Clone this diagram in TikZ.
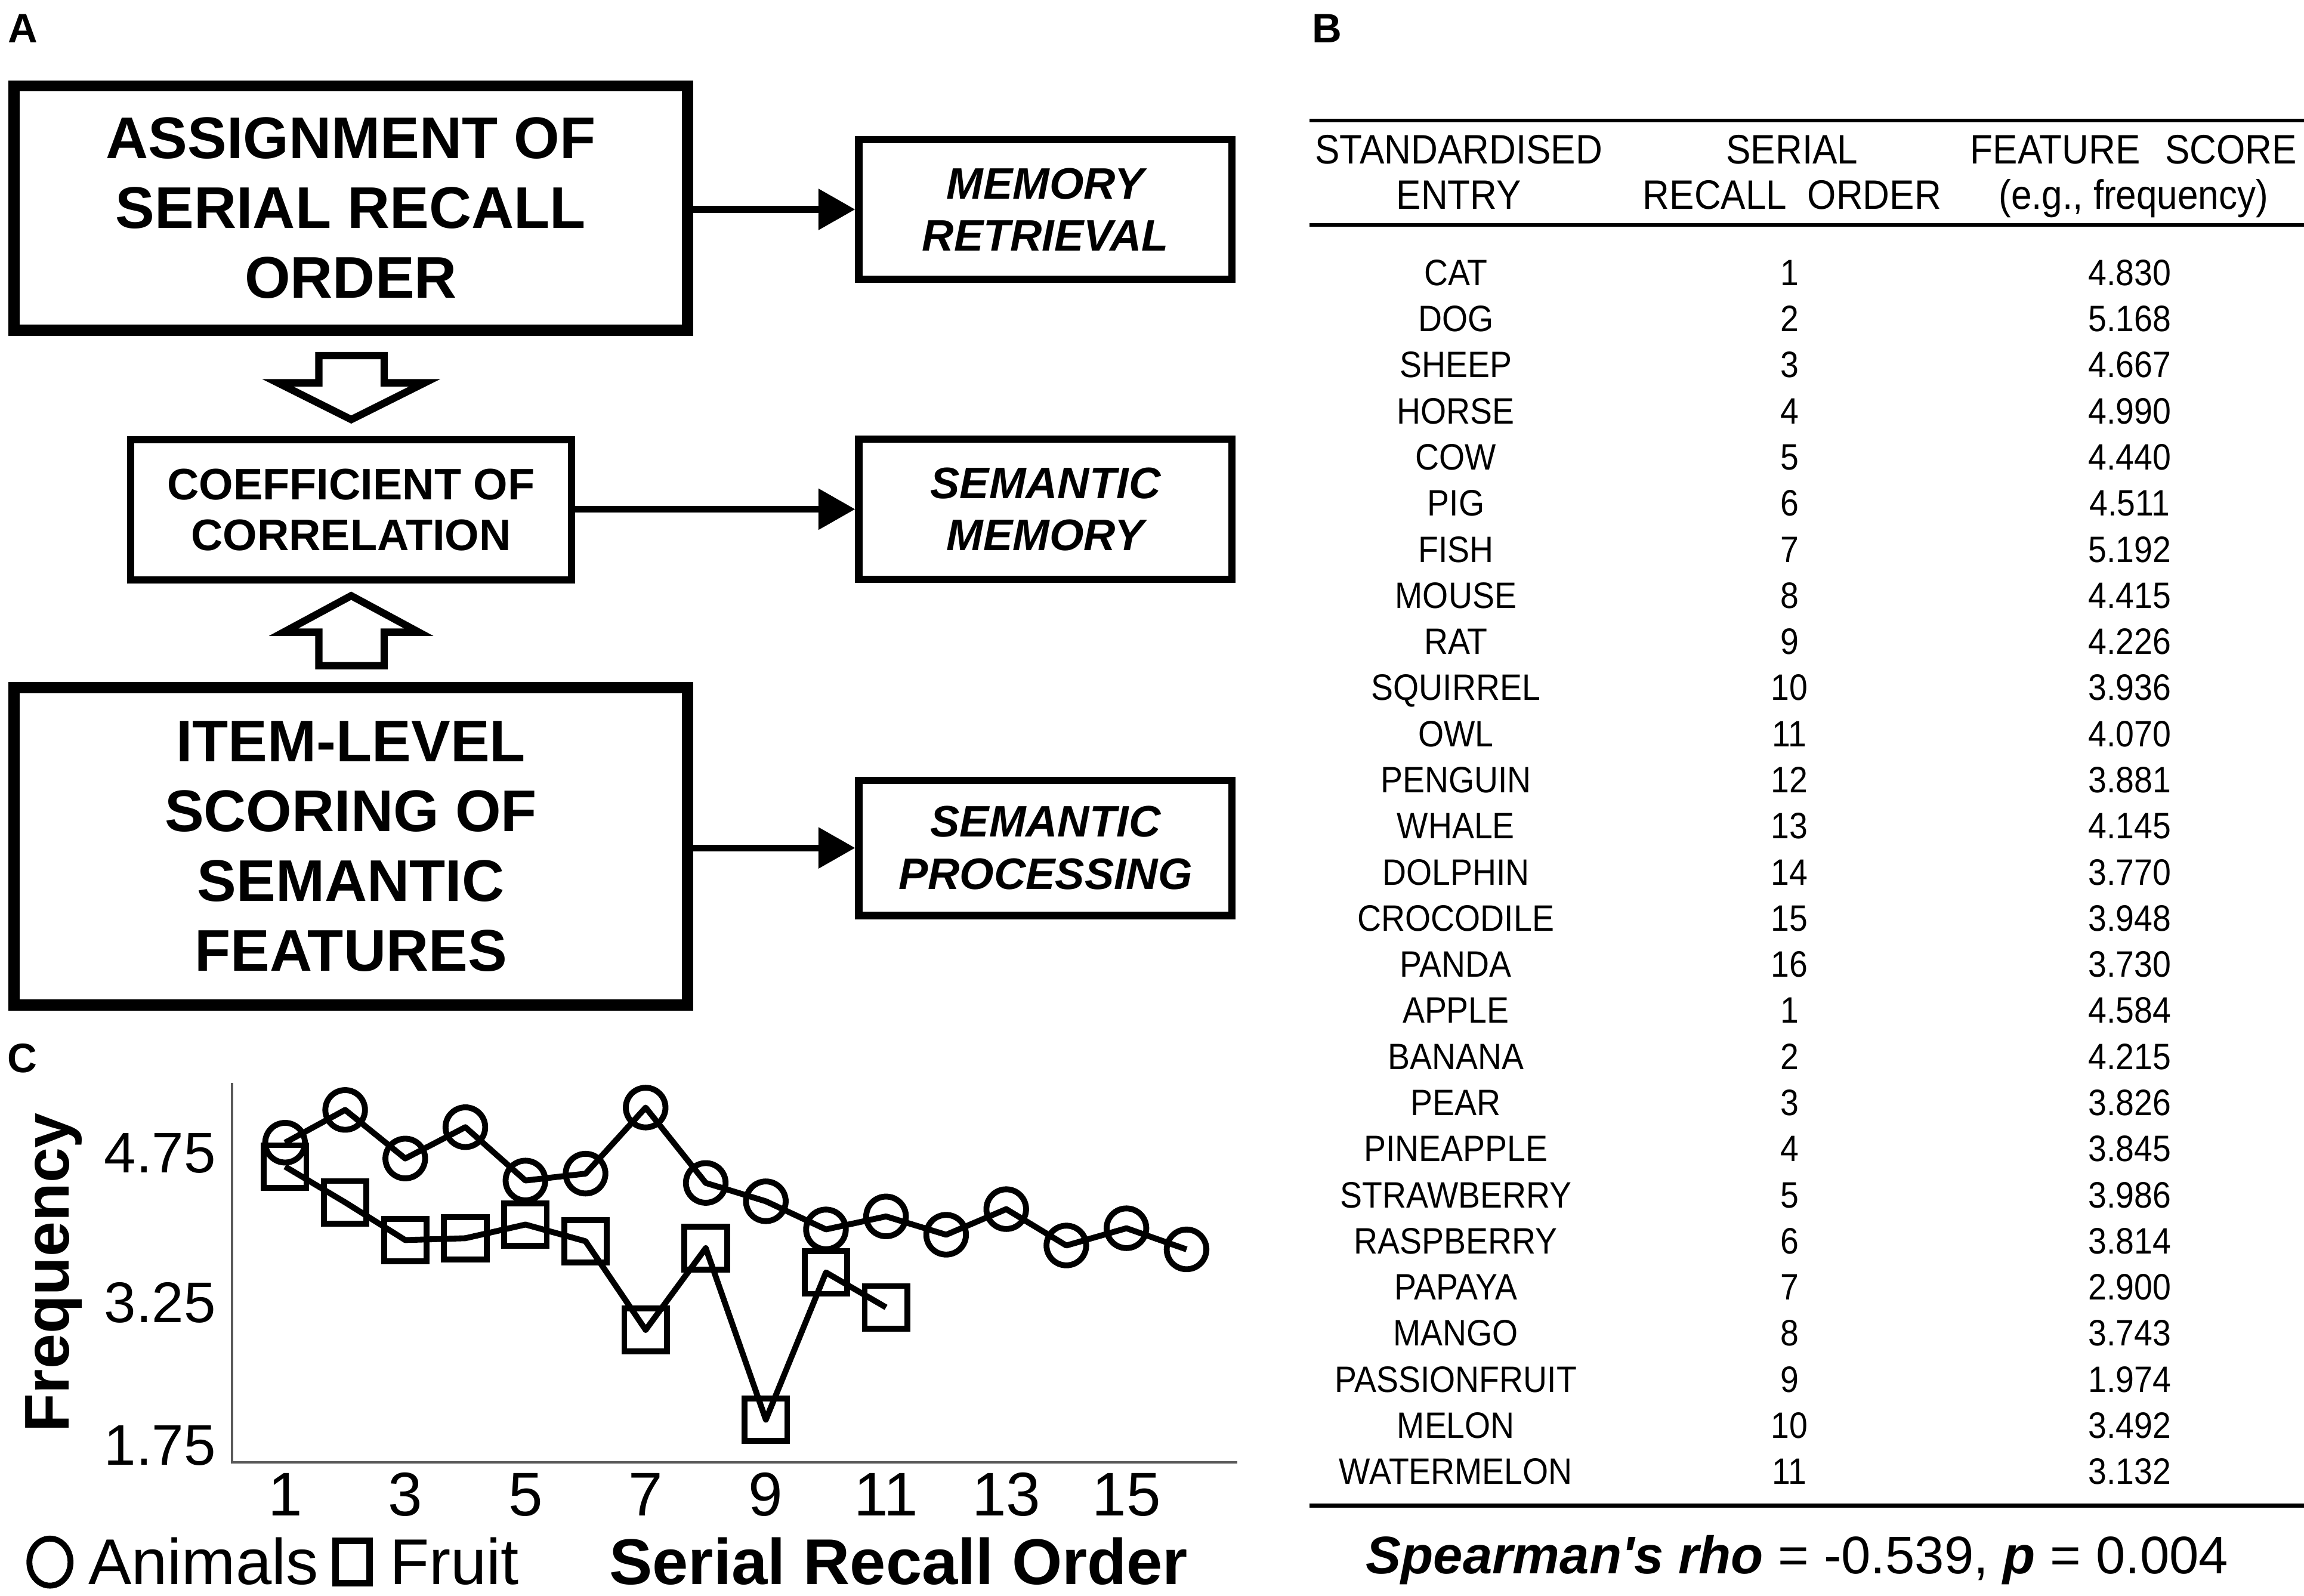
\documentclass[tikz,border=0pt]{standalone}
\usepackage{fontspec}
\setmainfont{Liberation Sans}
\newfontfamily\narrowfont[FakeStretch=0.9]{Liberation Sans}
\newfontfamily\rhofont[Ligatures=TeXOff]{Liberation Sans}
\usetikzlibrary{arrows.meta,shapes.geometric}
\begin{document}
\begin{tikzpicture}[x=1pt,y=-1pt,
  bigbox/.style={draw, line width=7.5pt, minimum width=458.5pt, inner sep=0pt, align=center,
    font=\bfseries\fontsize{40}{47.6}\selectfont},
  midbox/.style={draw, line width=5pt, inner sep=0pt, align=center,
    font=\bfseries\fontsize{30}{34.2}\selectfont},
  sidebox/.style={draw, line width=5pt, minimum width=254pt, inner sep=0pt, align=center,
    font=\bfseries\itshape\fontsize{30}{35.5}\selectfont},
  flowarrow/.style={line width=4.5pt, -{Triangle[length=25pt,width=27pt]}},
  hollow/.style={draw, line width=5pt, line join=miter, fill=white},
  panellabel/.style={font=\bfseries\fontsize{28}{30}\selectfont, inner sep=0pt},
  hdrtext/.style={anchor=base, inner sep=0pt, font=\narrowfont\fontsize{28}{32}\selectfont},
  rowtext/.style={anchor=base, inner sep=0pt, font=\narrowfont\fontsize{25}{30}\selectfont},
  rule/.style={line width=2.6pt},
  axisline/.style={draw=black!65, line width=1.6pt},
  dataline/.style={line width=4pt, line join=round},
  circmark/.style={circle, draw, line width=4pt, minimum size=27pt, inner sep=0pt},
  sqmark/.style={rectangle, draw, line width=4pt, minimum size=29pt, inner sep=0pt},
  ticklab/.style={inner sep=0pt, font=\fontsize{42}{46}\selectfont},
  ylab/.style={anchor=base east, inner sep=0pt, font=\fontsize{39}{42}\selectfont},
  bigtext/.style={anchor=base west, inner sep=0pt, font=\fontsize{44}{48}\selectfont}
]
\useasboundingbox[fill=white] (0,0) rectangle (1568,1086);

% ---------------- Panel A ----------------
\node[panellabel] (labA) at (15.6,19.5) {A};
\node[bigbox, minimum height=166.2pt] (assign) at (238.75,141.6) {ASSIGNMENT OF\\SERIAL RECALL\\ORDER};
\node[midbox, minimum width=300.2pt, minimum height=95.3pt] (coef) at (238.9,347) {COEFFICIENT OF\\CORRELATION};
\node[bigbox, minimum height=216pt] (item) at (238.75,576) {ITEM-LEVEL\\SCORING OF\\SEMANTIC\\FEATURES};
\node[sidebox, minimum height=95pt] (memret) at (711.5,142.5) {MEMORY\\RETRIEVAL};
\node[sidebox, minimum height=95.3pt] (semmem) at (711.5,346.5) {SEMANTIC\\MEMORY};
\node[sidebox, minimum height=92pt] (semproc) at (711.5,577) {SEMANTIC\\PROCESSING};

\draw[flowarrow] (assign.east |- memret.west) -- (memret.west);
\draw[flowarrow] (coef.east |- semmem.west) -- (semmem.west);
\draw[flowarrow] (item.east |- semproc.west) -- (semproc.west);

% hollow block arrows
\draw[hollow] (217,242) -- (261.5,242) -- (261.5,260.5) -- (289,260.5) -- (239,285.5)
  -- (189,260.5) -- (217,260.5) -- cycle;
\draw[hollow] (239,405.4) -- (285,430.2) -- (261.5,430.2) -- (261.5,453) -- (217,453)
  -- (217,430.2) -- (193,430.2) -- cycle;

% ---------------- Panel B ----------------
\node[panellabel] (labB) at (903,19.5) {B};
\coordinate (r1a) at (891,82);   \coordinate (r1b) at (1568,82);
\coordinate (r2a) at (891,153);  \coordinate (r2b) at (1568,153);
\coordinate (r3a) at (891,1024.5); \coordinate (r3b) at (1568,1024.5);
\draw[rule] (r1a) -- (r1b);
\draw[rule] (r2a) -- (r2b);
\draw[rule] (r3a) -- (r3b);

\node[hdrtext] (h1a) at (992.8,111.4) {STANDARDISED};
\node[hdrtext] (h1b) at (992.8,142.5) {ENTRY};
\node[hdrtext] (h2a) at (1219.6,111.4) {SERIAL};
\node[hdrtext] (h2b) at (1219.6,142.5) {RECALL\hspace{0.5em}ORDER};
\node[hdrtext] (h3a) at (1452,111.4) {FEATURE\hspace{0.6em}SCORE};
\node[hdrtext] (h3b) at (1452,142.5) {(e.g., frequency)};

\foreach \nm/\num/\val [count=\i from 0] in {
  CAT/1/4.830, DOG/2/5.168, SHEEP/3/4.667, HORSE/4/4.990, COW/5/4.440,
  PIG/6/4.511, FISH/7/5.192, MOUSE/8/4.415, RAT/9/4.226, SQUIRREL/10/3.936,
  OWL/11/4.070, PENGUIN/12/3.881, WHALE/13/4.145, DOLPHIN/14/3.770,
  CROCODILE/15/3.948, PANDA/16/3.730, APPLE/1/4.584, BANANA/2/4.215,
  PEAR/3/3.826, PINEAPPLE/4/3.845, STRAWBERRY/5/3.986, RASPBERRY/6/3.814,
  PAPAYA/7/2.900, MANGO/8/3.743, PASSIONFRUIT/9/1.974, MELON/10/3.492,
  WATERMELON/11/3.132}{
  \node[rowtext] (ent\i) at (990.8,{194.2+\i*31.38}) {\nm};
  \node[rowtext] (ord\i) at (1217.9,{194.2+\i*31.38}) {\num};
  \node[rowtext] (val\i) at (1449.3,{194.2+\i*31.38}) {\val};
}

\node[anchor=base, inner sep=0pt, font=\rhofont\fontsize{36}{40}\selectfont] (rho) at (1223,1071)
  {\textbf{\textit{Spearman's rho}} = -0.539, \textbf{\textit{p}} = 0.004};

% ---------------- Panel C ----------------
\node[panellabel] (labC) at (15,720) {C};
\coordinate (ytop) at (158,737);
\coordinate (origin) at (158,995);
\coordinate (xend) at (842,995);
\draw[axisline] (ytop) -- (origin) -- (xend);

\node[ylab] (y475) at (147,798) {4.75};
\node[ylab] (y325) at (147,900) {3.25};
\node[ylab] (y175) at (147,997) {1.75};
\node[rotate=90, anchor=base, inner sep=0pt, font=\bfseries\fontsize{43}{46}\selectfont] (freq) at (46.8,866) {Frequency};

\foreach \n in {1,3,...,15}{
  \node[ticklab, anchor=base] (xt\n) at ({194+(\n-1)*40.9},1031.5) {\n};
}

\foreach \v [count=\i] in {4.830,5.168,4.667,4.990,4.440,4.511,5.192,4.415,4.226,3.936,4.070,3.881,4.145,3.770,3.948,3.730}{
  \coordinate (a\i) at ({194+(\i-1)*40.9},{753.7+(5.192-\v)*66});
}
\foreach \v [count=\i] in {4.584,4.215,3.826,3.845,3.986,3.814,2.900,3.743,1.974,3.492,3.132}{
  \coordinate (f\i) at ({194+(\i-1)*40.9},{753.7+(5.192-\v)*66});
}
\draw[dataline] (a1) foreach \i in {2,...,16}{ -- (a\i)};
\draw[dataline] (f1) foreach \i in {2,...,11}{ -- (f\i)};
\foreach \i in {1,...,16}{ \node[circmark] (am\i) at (a\i) {}; }
\foreach \i in {1,...,11}{ \node[sqmark] (fm\i) at (f\i) {}; }

% legend
\node[ellipse, draw, line width=4pt, minimum width=28pt, minimum height=32pt, inner sep=0pt] (legA) at (34,1063) {};
\node[bigtext] (legAt) at (60,1078) {Animals};
\node[rectangle, draw, line width=4.5pt, minimum width=23pt, minimum height=29pt, inner sep=0pt] (legF) at (240,1063) {};
\node[bigtext] (legFt) at (265,1078) {Fruit};
\node[bigtext, font=\bfseries\fontsize{44}{48}\selectfont] (xtitle) at (414.5,1078) {Serial Recall Order};
\end{tikzpicture}
\end{document}
